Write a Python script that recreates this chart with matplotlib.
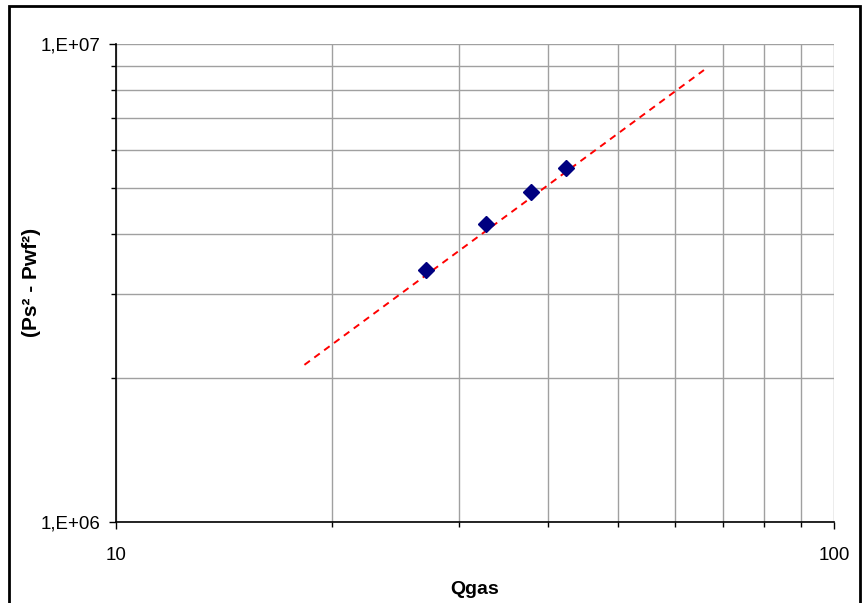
import numpy as np
import matplotlib.pyplot as plt
from matplotlib.ticker import FixedLocator, FixedFormatter, NullFormatter
from matplotlib.patches import Rectangle

plt.rcParams['font.family'] = ['Liberation Sans', 'DejaVu Sans']

# podaci (ocitano sa slike)
qgas = np.array([27.0, 32.8, 37.9, 42.4])
dp2 = np.array([3.37e6, 4.19e6, 4.89e6, 5.51e6])
# trend linija (power), krajnje tocke ocitane sa slike
trend_x = [18.3, 65.9]
trend_y = [2.13e6, 8.82e6]

fig = plt.figure(figsize=(8.64, 6.03), dpi=100)
ax = fig.add_axes([116/864, 1 - 521.7/603, (834 - 116)/864, (521.7 - 44)/603])

ax.plot(trend_x, trend_y, color='red', lw=1.4, dashes=(3.5, 2.8), zorder=2)
ax.plot(qgas, dp2, 'D', color='#000080', markersize=8, zorder=3)

ax.set_xscale('log')
ax.set_yscale('log')
ax.set_xlim(10, 100)
ax.set_ylim(1e6, 1e7)

ax.xaxis.set_major_locator(FixedLocator([10, 100]))
ax.xaxis.set_major_formatter(FixedFormatter(['10', '100']))
ax.xaxis.set_minor_locator(FixedLocator(np.arange(20, 100, 10)))
ax.xaxis.set_minor_formatter(NullFormatter())
ax.yaxis.set_major_locator(FixedLocator([1e6, 1e7]))
ax.yaxis.set_major_formatter(FixedFormatter(['1,E+06', '1,E+07']))
ax.yaxis.set_minor_locator(FixedLocator(np.arange(2e6, 1e7, 1e6)))
ax.yaxis.set_minor_formatter(NullFormatter())

ax.grid(True, which='both', color='#a0a0a0', lw=1.0)
ax.set_axisbelow(True)
for s in ['top', 'right']:
    ax.spines[s].set_visible(False)
for s in ['left', 'bottom']:
    ax.spines[s].set_color('black')
    ax.spines[s].set_linewidth(1.2)

ax.tick_params(which='major', direction='out', length=5, width=1, labelsize=13.5, pad=6)
ax.tick_params(which='minor', direction='out', length=3.5, width=1)
ax.tick_params(axis='x', which='major', pad=13)

ax.set_xlabel('Qgas', fontsize=14, fontweight='bold')
ax.set_ylabel('(Ps² - Pwf²)', fontsize=15, fontweight='bold')
ax.xaxis.set_label_coords(0.5, -0.124)
ax.yaxis.set_label_coords(-0.104, 0.5)

# okvir oko cijelog grafa
fig.patches.append(Rectangle((9/864, -0.05), (860 - 9)/864, 1.05 - 6/603,
                             transform=fig.transFigure, fill=False,
                             edgecolor='black', lw=2))

plt.savefig('out.png', dpi=100)
